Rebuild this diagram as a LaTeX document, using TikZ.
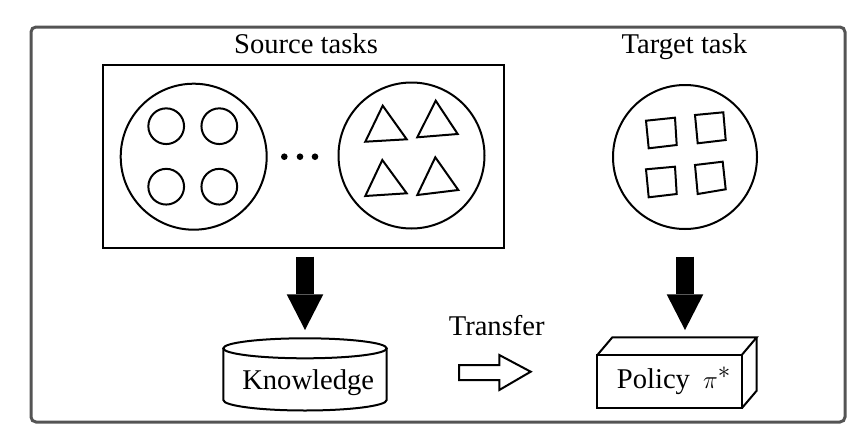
\documentclass[tikz,border=0pt]{standalone}
\usepackage{fontspec}
\setmainfont{Liberation Serif}
\usetikzlibrary{arrows.meta,calc}
\begin{document}
\begin{tikzpicture}[x=1pt,y=-1pt,line join=miter,
  ln/.style={draw=black,line width=2pt,inner sep=0pt,outer sep=0pt},
  ring/.style={ln,circle},
  lbl/.style={font=\fontsize{28.6}{34}\selectfont,inner sep=0pt,anchor=base},
  fat/.style={line width=18.3pt,-{Triangle[length=35.7pt,width=36.6pt,line width=0pt]}},
  shp/.style={draw=black,line width=2pt}]
\useasboundingbox (0,0) rectangle (868,442);
% outer frame
\draw[line width=3pt,draw=black!67,rounded corners=5pt] (31,27) rectangle (845,422);
% titles
\node[lbl] (srcl) at (306,53.3) {Source tasks};
\node[lbl] (tgtl) at (684.4,53.3) {Target task};
% source box
\node[ln,minimum width=401pt,minimum height=183pt] (src) at (303.5,156.5) {};
% first source task
\node[ring,minimum size=146pt] (c1) at (193.7,156.7) {};
\node[ring,minimum size=35.7pt] (s1) at (166.2,126.2) {};
\node[ring,minimum size=35.7pt] (s2) at (219.3,126.2) {};
\node[ring,minimum size=35.7pt] (s3) at (166.2,186.7) {};
\node[ring,minimum size=35.7pt] (s4) at (219.3,186.7) {};
% dots
\fill (284.3,156.7) circle (3.3);
\fill (300,156.7) circle (3.3);
\fill (315,156.7) circle (3.3);
% second source task
\node[ring,minimum size=146pt] (c2) at (411.5,155.5) {};
\draw[shp] (382.7,105.7) -- (365.3,141.7) -- (406.7,139.3) -- cycle;
\draw[shp] (435.7,100.7) -- (417.3,137.3) -- (457.7,134) -- cycle;
\draw[shp] (382.3,160) -- (365.3,196) -- (406.7,193.3) -- cycle;
\draw[shp] (435.3,157.3) -- (417.3,195) -- (458.3,190) -- cycle;
% target task
\node[ring,minimum size=144pt] (c3) at (685,157) {};
\draw[shp] (646,120.7) -- (675,117.7) -- (676.7,145) -- (648.7,148.3) -- cycle;
\draw[shp] (695,115) -- (723.3,112.3) -- (725.7,140) -- (697.7,143.3) -- cycle;
\draw[shp] (646,169.3) -- (675,166.7) -- (676.7,194) -- (648.7,197.3) -- cycle;
\draw[shp] (695,165) -- (722.7,161.7) -- (725.7,189.3) -- (697.7,194) -- cycle;
% knowledge cylinder
\coordinate (kntop) at (305,338.3);
\draw[shp] (305,348.3) ellipse [x radius=81.7,y radius=10];
\draw[shp] (223.3,348.3) -- (223.3,400) arc [start angle=180,end angle=360,x radius=81.7,y radius=-10.5] -- (386.7,348.3);
\node[lbl] (kn) at (308.2,389) {Knowledge};
% policy box
\node[ln,minimum width=144.4pt,minimum height=53.3pt] (pol) at (669.5,381.7) {};
\draw[shp] (pol.north west) -- ++(15,-17.7) -- ($(pol.north east)+(15,-17.7)$) -- (pol.north east);
\draw[shp] ($(pol.north east)+(15,-17.7)$) -- ++(0,53.3) -- (pol.south east);
\node[lbl,anchor=base west] (polt) at (616.7,388) {Policy\hspace{6pt} {\fontsize{34}{40}\selectfont$\pi^*$}};
% arrows
\draw[fat,shorten <=8.7pt,shorten >=8.3pt] (src.south -| kntop) -- (kntop);
\draw[fat,shorten <=27.7pt,shorten >=25pt] (c3.south) -- (c3.south |- pol.north);
% transfer arrow
\node[lbl] (trl) at (496.7,335) {Transfer};
\coordinate (tr) at (459,372.5);
\draw[shp] (tr) ++(0,-7.5) -- ++(40.3,0) -- ++(0,-10) -- (530.7,371.7) -- (499.3,390) -- ++(0,-10) -- (459,380) -- cycle;
\end{tikzpicture}
\end{document}
